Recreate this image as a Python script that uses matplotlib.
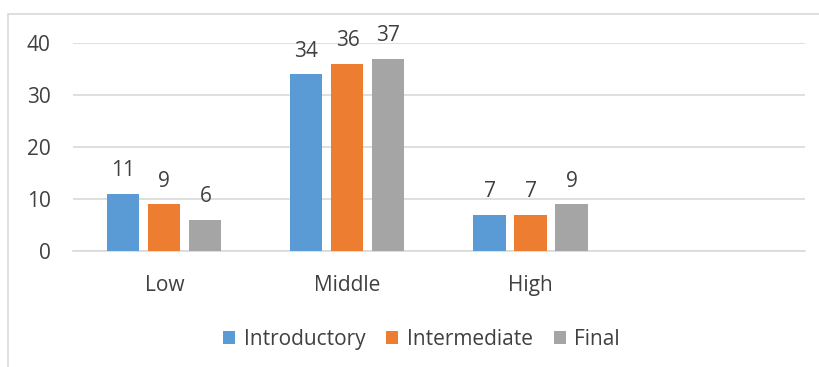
import matplotlib.pyplot as plt
import numpy as np
from matplotlib.patches import Rectangle

categories = ["Low", "Middle", "High", ""]
introductory = [11, 34, 7]
intermediate = [9, 36, 7]
final = [6, 37, 9]
series_names = ["Introductory", "Intermediate", "Final"]
colors = ["#5B9BD5", "#ED7D31", "#A5A5A5"]

plt.rcParams['font.family'] = ['Open Sans', 'DejaVu Sans']
text_color = "#404040"
fs = 15

fig = plt.figure(figsize=(8.19, 3.67), dpi=100)
ax = fig.add_axes([0.089, 0.316, 0.894, 0.567])

# chart border (Excel style)
fig.patches.append(Rectangle((8 / 819, -0.1), 1.0, 1 - 14 / 367 + 0.1,
                             transform=fig.transFigure, fill=False,
                             edgecolor="#D9D9D9", linewidth=1.2))

x = np.arange(3)
width = 0.175
step = 0.224
for i, (vals, name, c) in enumerate(zip([introductory, intermediate, final], series_names, colors)):
    bars = ax.bar(x + (i - 1) * step, vals, width, color=c, label=name, zorder=3)
    ax.bar_label(bars, padding=9, fontsize=fs, color=text_color)

ax.set_xlim(-0.5, 3.5)
ax.set_ylim(0, 40)
ax.set_yticks([0, 10, 20, 30, 40])
ax.set_xticks(range(4))
ax.set_xticklabels(categories)
ax.grid(True, axis="y", color="#D9D9D9", linewidth=1.2, zorder=0)
for s in ["top", "right", "left"]:
    ax.spines[s].set_visible(False)
ax.spines["bottom"].set_color("#D9D9D9")
ax.spines["bottom"].set_linewidth(1.2)
ax.tick_params(axis="both", length=0, labelsize=fs, colors=text_color)
ax.tick_params(axis="x", pad=17)
ax.tick_params(axis="y", pad=16)

ax.legend(loc="upper center", bbox_to_anchor=(0.476, -0.285), ncol=3, frameon=False,
          fontsize=fs, labelcolor=text_color, handlelength=0.6, handleheight=0.6,
          handletextpad=0.4, columnspacing=1.0)

plt.savefig("out.png")
